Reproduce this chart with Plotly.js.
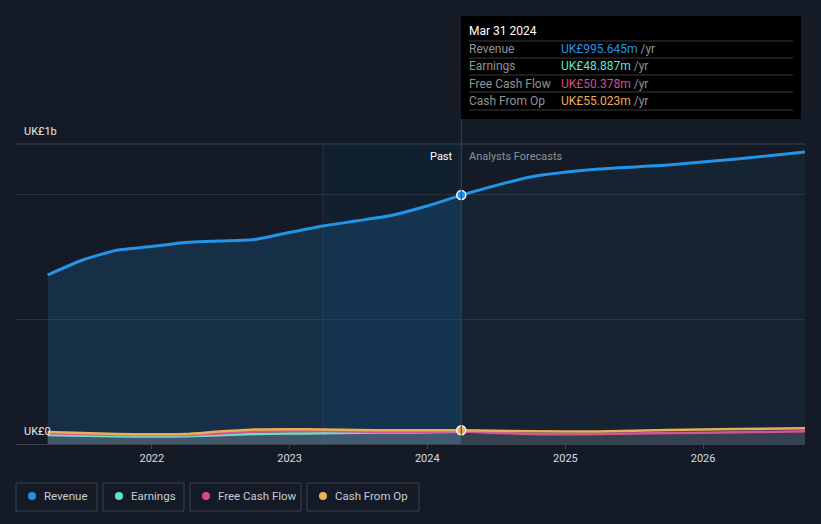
<!DOCTYPE html>
<html>
<head>
<meta charset="utf-8">
<script src="https://cdn.plot.ly/plotly-3.0.1.min.js"></script>
<style>
html,body{margin:0;padding:0;background:#151b26;}
#chart{width:821px;height:524px;}
</style>
</head>
<body>
<div id="chart"></div>
<script>
// ---- data (UK£ millions) ----
const pastDates = ['2021-03-31','2021-06-30','2021-09-30','2021-12-31','2022-03-31','2022-06-30','2022-09-30','2022-12-31','2023-03-31','2023-06-30','2023-09-30','2023-12-31','2024-03-31'];
const revenuePast = [676, 735, 775, 790, 806, 812, 818, 846, 872, 893, 915, 952, 995.645];
const earningsPast = [36, 33, 31, 30, 31, 35, 40, 42, 43, 45, 46, 47, 48.887];
const fcfPast = [43, 40, 37, 36, 36, 42, 50, 52, 52, 50, 49, 49, 50.378];
const cfoPast = [48, 44, 40, 39, 40, 50, 58, 59, 58, 56, 55, 55, 55.023];

const fcDates = ['2024-03-31','2024-09-30','2025-03-31','2025-09-30','2026-03-31','2026-09-28'];
const revenueFc = [995.645, 1068, 1100, 1116, 1140, 1168];
const fcfFc = [50.378, 40, 40, 44, 47, 51];
const cfoFc = [55.023, 51, 50, 56, 60, 63];

const xTickVals = ['2022-01-01','2023-01-01','2024-01-01','2025-01-01','2026-01-01'];
const xTickText = ['2022','2023','2024','2025','2026'];

const tipDate = 'Mar 31 2024';
const tipRows = [
  {name:'Revenue', value:'UK£995.645m', color:'#2394e8'},
  {name:'Earnings', value:'UK£48.887m', color:'#5fe3cc'},
  {name:'Free Cash Flow', value:'UK£50.378m', color:'#d9488e'},
  {name:'Cash From Op', value:'UK£55.023m', color:'#eaae55'}
];
const legendItems = [
  {name:'Revenue', color:'#2394e8', x0:16, x1:97},
  {name:'Earnings', color:'#5fe3cc', x0:103, x1:184},
  {name:'Free Cash Flow', color:'#d9488e', x0:190, x1:301},
  {name:'Cash From Op', color:'#eaae55', x0:307, x1:419}
];

// ---- pixel helpers (plot area: x 16..805, y 144..444) ----
const L=16, R=805, T=144, B=444;
const px = x => (x-L)/(R-L);
const py = y => (B-y)/(B-T);

const blue='#2394e8', teal='#5fe3cc', pink='#d9488e', orange='#eaae55';
const smallFill='rgba(190,195,205,0.10)';
const spline={shape:'spline', smoothing:0.6};

const traces = [
  {x:pastDates, y:revenuePast, type:'scatter', mode:'lines', fill:'tozeroy', fillcolor:'rgba(35,148,232,0.17)', line:Object.assign({color:blue,width:3},spline), hoverinfo:'skip'},
  {x:fcDates, y:revenueFc, type:'scatter', mode:'lines', fill:'tozeroy', fillcolor:'rgba(35,148,232,0.07)', line:Object.assign({color:blue,width:3},spline), hoverinfo:'skip'},
  {x:pastDates, y:earningsPast, type:'scatter', mode:'lines', fill:'tozeroy', fillcolor:smallFill, line:Object.assign({color:teal,width:2.5},spline), hoverinfo:'skip'},
  {x:pastDates, y:fcfPast, type:'scatter', mode:'lines', fill:'tozeroy', fillcolor:smallFill, line:Object.assign({color:pink,width:2.5},spline), hoverinfo:'skip'},
  {x:fcDates, y:fcfFc, type:'scatter', mode:'lines', fill:'tozeroy', fillcolor:smallFill, line:Object.assign({color:pink,width:2.5},spline), hoverinfo:'skip'},
  {x:pastDates, y:cfoPast, type:'scatter', mode:'lines', fill:'tozeroy', fillcolor:smallFill, line:Object.assign({color:orange,width:2.5},spline), hoverinfo:'skip'},
  {x:fcDates, y:cfoFc, type:'scatter', mode:'lines', fill:'tozeroy', fillcolor:smallFill, line:Object.assign({color:orange,width:2.5},spline), hoverinfo:'skip'},
  {x:[pastDates[pastDates.length-1]], y:[revenuePast[revenuePast.length-1]], type:'scatter', mode:'markers', marker:{color:blue,size:9,line:{color:'#ffffff',width:1.5}}, hoverinfo:'skip'},
  {x:[pastDates[pastDates.length-1]], y:[cfoPast[cfoPast.length-1]], type:'scatter', mode:'markers', marker:{color:orange,size:9,line:{color:'#ffffff',width:1.5}}, hoverinfo:'skip'}
];

const shapes = [
  {type:'rect', xref:'paper', x0:0, x1:'2023-03-31', yref:'paper', y0:0, y1:1, fillcolor:'#11161e', line:{width:0}, layer:'below'},
  {type:'rect', xref:'x', x0:'2023-03-31', x1:'2024-03-31', yref:'paper', y0:0, y1:1, fillcolor:'#10202f', line:{width:0}, layer:'below'},
  {type:'line', xref:'x', x0:'2023-03-31', x1:'2023-03-31', yref:'paper', y0:0, y1:1, line:{color:'#1d3245', width:1}, layer:'below'},
  // top grid line
  {type:'line', xref:'paper', yref:'paper', x0:0, x1:1, y0:1, y1:1, line:{color:'#3a414c', width:1}},
  {type:'line', xref:'x', x0:'2024-03-31', x1:'2024-03-31', yref:'paper', y0:0, y1:py(119), line:{color:'#2c465c', width:1}},
  // tooltip box
  {type:'rect', xref:'paper', yref:'paper', x0:px(461), x1:px(801), y0:py(119), y1:py(16), fillcolor:'#000000', line:{width:0}}
];
// tooltip separators
[41,58,75,92,110].forEach(y=>{
  shapes.push({type:'line', xref:'paper', yref:'paper', x0:px(469), x1:px(793), y0:py(y), y1:py(y), line:{color:'#3a3a3a', width:1}});
});
// legend boxes
legendItems.forEach(it=>{
  shapes.push({type:'rect', xref:'paper', yref:'paper', x0:px(it.x0), x1:px(it.x1), y0:py(511), y1:py(483), line:{color:'#3a414d', width:1}, fillcolor:'rgba(0,0,0,0)'});
  const cx=it.x0+16, cy=496;
  shapes.push({type:'circle', xref:'paper', yref:'paper', x0:px(cx-4), x1:px(cx+4), y0:py(cy+4), y1:py(cy-4), fillcolor:it.color, line:{width:0}});
});

const font='Roboto, "Open Sans", sans-serif';
const annotations = [
  {xref:'paper', yref:'paper', x:px(22), y:py(131), text:'UK£1b', showarrow:false, xanchor:'left', yanchor:'middle', font:{family:font,size:11,color:'#e6e8eb'}},
  {xref:'paper', yref:'paper', x:px(22), y:py(431), text:'UK£0', showarrow:false, xanchor:'left', yanchor:'middle', font:{family:font,size:11,color:'#e6e8eb'}},
  {xref:'paper', yref:'paper', x:px(455), y:py(156), text:'Past', showarrow:false, xanchor:'right', yanchor:'middle', font:{family:font,size:11,color:'#ffffff'}},
  {xref:'paper', yref:'paper', x:px(467), y:py(156), text:'Analysts Forecasts', showarrow:false, xanchor:'left', yanchor:'middle', font:{family:font,size:11,color:'#8c9199'}},
  {xref:'paper', yref:'paper', x:px(467), y:py(31), text:tipDate, showarrow:false, xanchor:'left', yanchor:'middle', font:{family:font,size:12,color:'#ffffff'}}
];
tipRows.forEach((r,i)=>{
  const y = 49 + i*17.4;
  annotations.push({xref:'paper', yref:'paper', x:px(467), y:py(y), text:r.name, showarrow:false, xanchor:'left', yanchor:'middle', font:{family:font,size:12,color:'#8f9399'}});
  annotations.push({xref:'paper', yref:'paper', x:px(559), y:py(y), text:'<span style="color:'+r.color+'">'+r.value+'</span> /yr', showarrow:false, xanchor:'left', yanchor:'middle', font:{family:font,size:12,color:'#8f9399'}});
});
legendItems.forEach(it=>{
  annotations.push({xref:'paper', yref:'paper', x:px(it.x0+26), y:py(496), text:it.name, showarrow:false, xanchor:'left', yanchor:'middle', font:{family:font,size:11.5,color:'#c8ccd2'}});
});

const layout = {
  width:821, height:524,
  margin:{l:L, r:821-R, t:T, b:524-B, pad:0},
  paper_bgcolor:'#151b26', plot_bgcolor:'rgba(0,0,0,0)',
  showlegend:false,
  font:{family:font, size:11, color:'#d0d3d8'},
  xaxis:{type:'date', range:['2021-01-06','2026-09-28'], tickvals:xTickVals, ticktext:xTickText, showgrid:false, zeroline:false,
         showline:true, linecolor:'#3b424e', linewidth:1, ticks:'outside', ticklen:4, tickcolor:'#3b424e',
         tickfont:{family:font,size:11,color:'#d8dbe0'}, fixedrange:true},
  yaxis:{range:[0,1200], tickvals:[500,1000], showticklabels:false, showgrid:true, gridcolor:'#2a313c', gridwidth:1,
         zeroline:false, showline:false, fixedrange:true},
  shapes:shapes,
  annotations:annotations,
  hovermode:false
};

Plotly.newPlot('chart', traces, layout, {staticPlot:true, displayModeBar:false});
</script>
</body>
</html>
